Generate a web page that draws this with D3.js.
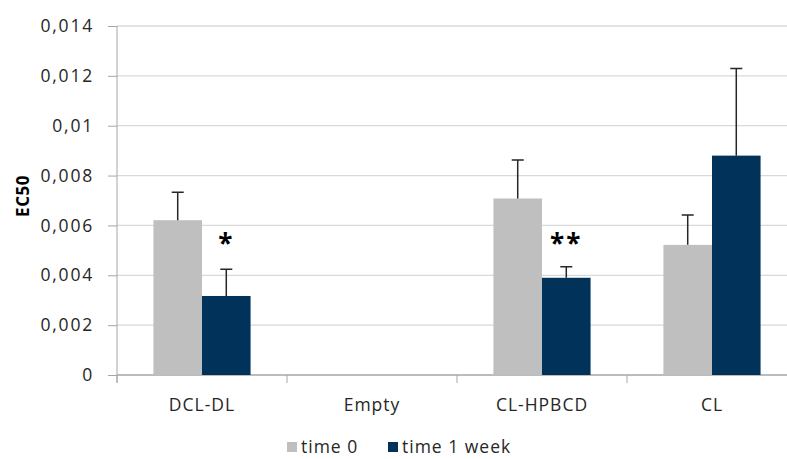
<!DOCTYPE html>
<html>
<head>
<meta charset="utf-8">
<script src="https://cdn.jsdelivr.net/npm/d3@7"></script>
<style>
  body { margin: 0; background: #fff; }
  svg { display: block; font-family: "Open Sans", sans-serif; }
</style>
</head>
<body>
<div id="chart"></div>
<script>
const categories = ["DCL-DL", "Empty", "CL-HPBCD", "CL"];
const seriesNames = ["time 0", "time 1 week"];
const time0 = [0.00621, null, 0.00708, 0.00522];
const time1week = [0.00317, null, 0.0039, 0.0088];
const err0 = [0.00112, null, 0.00154, 0.0012];
const err1 = [0.00107, null, 0.00044, 0.0035];
const marksText = ["*", "", "**", ""];
const yTicks = [0, 0.002, 0.004, 0.006, 0.008, 0.01, 0.012, 0.014];
const tickLabels = ["0", "0,002", "0,004", "0,006", "0,008", "0,01", "0,012", "0,014"];

const width = 787, height = 459;
const colors = ["#bfbfbf", "#00325a"];
const textColor = "#262626";

const svg = d3.select("#chart").append("svg")
    .attr("width", width)
    .attr("height", height);

const x0 = 117, x1 = 797, yTop = 26, yBot = 375;

const x = d3.scaleBand().domain(categories).range([x0, x1]);
const y = d3.scaleLinear().domain([0, 0.014]).range([yBot, yTop]);

// gridlines
svg.selectAll(".grid").data(yTicks.slice(1)).enter().append("line")
    .attr("x1", x0).attr("x2", x1)
    .attr("y1", d => y(d)).attr("y2", d => y(d))
    .attr("stroke", "#d9d9d9").attr("stroke-width", 1.3);

// y axis
const yAxis = d3.axisLeft(y).tickValues(yTicks)
    .tickFormat((d, i) => tickLabels[i]).tickSize(9).tickPadding(14);
const gy = svg.append("g").attr("transform", `translate(${x0},0)`).call(yAxis);
gy.select(".domain").attr("stroke", "#a6a6a6").attr("d", `M0,${yTop}V${yBot + 8}`);
gy.selectAll(".tick line").attr("stroke", "#a6a6a6");
gy.selectAll(".tick text").attr("font-size", 17.5).attr("fill", textColor)
    .attr("font-family", "'Open Sans', sans-serif").attr("letter-spacing", 1.8);

// x axis
const gx = svg.append("g").attr("transform", `translate(0,${yBot})`);
gx.append("line").attr("x1", x0).attr("x2", x1).attr("stroke", "#a6a6a6").attr("stroke-width", 1.3);
gx.selectAll(".xt").data(categories).enter().append("line")
    .attr("x1", d => x(d)).attr("x2", d => x(d))
    .attr("y1", 0).attr("y2", 8)
    .attr("stroke", "#a6a6a6");
gx.selectAll(".xl").data(categories).enter().append("text")
    .attr("x", d => x(d) + x.bandwidth() / 2)
    .attr("y", 36)
    .attr("text-anchor", "middle")
    .attr("font-size", 17.5)
    .attr("letter-spacing", 1)
    .attr("fill", textColor)
    .text(d => d);

// bars
const inner = d3.scaleBand().domain(seriesNames).range([0, x.bandwidth()]).paddingOuter(0.75).paddingInner(0);
const series = [time0, time1week];
const errs = [err0, err1];

series.forEach((vals, s) => {
    const data = categories.map((c, i) => ({ c, v: vals[i], e: errs[s][i] })).filter(d => d.v != null);
    const cx = d => x(d.c) + inner(seriesNames[s]) + inner.bandwidth() / 2;
    svg.selectAll(".bar" + s).data(data).enter().append("rect")
        .attr("x", d => x(d.c) + inner(seriesNames[s]))
        .attr("width", inner.bandwidth())
        .attr("y", d => y(d.v))
        .attr("height", d => y(0) - y(d.v))
        .attr("fill", colors[s]);
    svg.selectAll(".err" + s).data(data).enter().append("path")
        .attr("d", d => `M${cx(d)},${y(d.v)}V${y(d.v + d.e)}M${cx(d) - 6},${y(d.v + d.e)}H${cx(d) + 6}`)
        .attr("stroke", textColor)
        .attr("stroke-width", 1.5)
        .attr("fill", "none");
});

// significance marks
const marks = categories.map((c, i) => ({ c, t: marksText[i] })).filter(d => d.t);
svg.selectAll(".star").data(marks).enter().append("text")
    .attr("x", d => x(d.c) + inner(seriesNames[1]) + inner.bandwidth() / 2)
    .attr("y", y(0.0049))
    .attr("text-anchor", "middle")
    .attr("font-size", 26)
    .attr("font-weight", "bold")
    .attr("letter-spacing", 2)
    .attr("fill", "#000")
    .text(d => d.t);

// y label
svg.append("text")
    .attr("transform", `translate(29,196) rotate(-90)`)
    .attr("text-anchor", "middle")
    .attr("font-size", 17)
    .attr("font-weight", "bold")
    .attr("letter-spacing", 0.5)
    .attr("fill", "#000")
    .text("EC50");

// legend
const legend = svg.append("g").attr("transform", "translate(0,452)");
const legX = [287, 388];
seriesNames.forEach((n, i) => {
    legend.append("rect").attr("x", legX[i]).attr("y", -10).attr("width", 10).attr("height", 10).attr("fill", colors[i]);
    legend.append("text").attr("x", legX[i] + 14).attr("y", 1)
        .attr("font-size", 17.5).attr("letter-spacing", 1).attr("fill", textColor).text(n);
});
</script>
</body>
</html>
